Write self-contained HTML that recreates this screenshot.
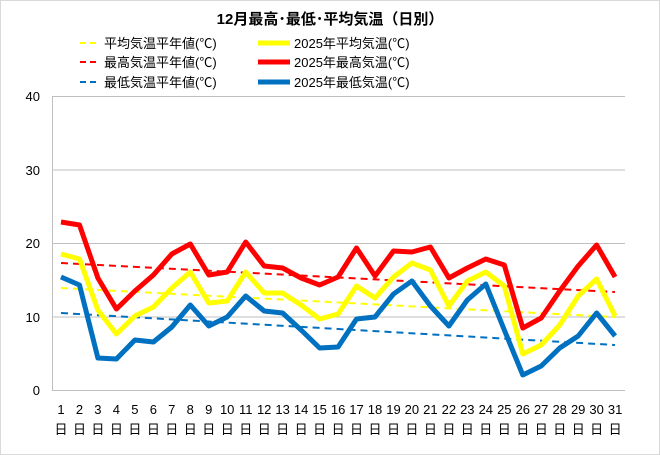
<!DOCTYPE html><html><head><meta charset="utf-8"><style>body{margin:0;background:#fff}svg{display:block}text{font-family:"Liberation Sans","Noto Sans CJK JP",sans-serif;fill:#000}</style></head><body>
<svg width="660" height="455" xmlns="http://www.w3.org/2000/svg">
<rect x="0.5" y="0.5" width="659" height="454" fill="#fff" stroke="#d9d9d9"/>
<text x="330" y="24" font-size="15" font-weight="bold" text-anchor="middle">12月最高･最低･平均気温（日別）</text>
<g font-size="13">
<line x1="80" y1="43" x2="100" y2="43" stroke="#ffff00" stroke-width="2" stroke-dasharray="6,4"/><text x="104" y="48">平均気温平年値(℃)</text>
<line x1="80" y1="62" x2="100" y2="62" stroke="#ff0000" stroke-width="2" stroke-dasharray="6,4"/><text x="104" y="67">最高気温平年値(℃)</text>
<line x1="80" y1="82" x2="100" y2="82" stroke="#0070c0" stroke-width="2" stroke-dasharray="6,4"/><text x="104" y="87">最低気温平年値(℃)</text>
<line x1="258" y1="43" x2="290" y2="43" stroke="#ffff00" stroke-width="5"/><text x="294" y="48">2025年平均気温(℃)</text>
<line x1="258" y1="62" x2="290" y2="62" stroke="#ff0000" stroke-width="5"/><text x="294" y="67">2025年最高気温(℃)</text>
<line x1="258" y1="82" x2="290" y2="82" stroke="#0070c0" stroke-width="5"/><text x="294" y="87">2025年最低気温(℃)</text>
</g>
<g stroke="#bfbfbf" stroke-width="1">
<line x1="52" y1="96.5" x2="625" y2="96.5"/><line x1="52" y1="170" x2="625" y2="170"/><line x1="52" y1="243.5" x2="625" y2="243.5"/><line x1="52" y1="317" x2="625" y2="317"/><line x1="52" y1="390.5" x2="625" y2="390.5"/><line x1="52.5" y1="96" x2="52.5" y2="390"/>
</g>
<g font-size="13" text-anchor="end"><text x="40" y="101">40</text><text x="40" y="175">30</text><text x="40" y="248">20</text><text x="40" y="322">10</text><text x="40" y="395">0</text></g>
<g font-size="13" text-anchor="middle">
<text x="61" y="414">1</text><text x="79.5" y="414">2</text><text x="97.9" y="414">3</text><text x="116.4" y="414">4</text><text x="134.9" y="414">5</text><text x="153.4" y="414">6</text><text x="171.8" y="414">7</text><text x="190.3" y="414">8</text><text x="208.8" y="414">9</text><text x="227.2" y="414">10</text><text x="245.7" y="414">11</text><text x="264.2" y="414">12</text><text x="282.6" y="414">13</text><text x="301.1" y="414">14</text><text x="319.6" y="414">15</text><text x="338.1" y="414">16</text><text x="356.5" y="414">17</text><text x="375" y="414">18</text><text x="393.5" y="414">19</text><text x="411.9" y="414">20</text><text x="430.4" y="414">21</text><text x="448.9" y="414">22</text><text x="467.3" y="414">23</text><text x="485.8" y="414">24</text><text x="504.3" y="414">25</text><text x="522.8" y="414">26</text><text x="541.2" y="414">27</text><text x="559.7" y="414">28</text><text x="578.2" y="414">29</text><text x="596.6" y="414">30</text><text x="615.1" y="414">31</text>
<text x="61" y="434">日</text><text x="79.5" y="434">日</text><text x="97.9" y="434">日</text><text x="116.4" y="434">日</text><text x="134.9" y="434">日</text><text x="153.4" y="434">日</text><text x="171.8" y="434">日</text><text x="190.3" y="434">日</text><text x="208.8" y="434">日</text><text x="227.2" y="434">日</text><text x="245.7" y="434">日</text><text x="264.2" y="434">日</text><text x="282.6" y="434">日</text><text x="301.1" y="434">日</text><text x="319.6" y="434">日</text><text x="338.1" y="434">日</text><text x="356.5" y="434">日</text><text x="375" y="434">日</text><text x="393.5" y="434">日</text><text x="411.9" y="434">日</text><text x="430.4" y="434">日</text><text x="448.9" y="434">日</text><text x="467.3" y="434">日</text><text x="485.8" y="434">日</text><text x="504.3" y="434">日</text><text x="522.8" y="434">日</text><text x="541.2" y="434">日</text><text x="559.7" y="434">日</text><text x="578.2" y="434">日</text><text x="596.6" y="434">日</text><text x="615.1" y="434">日</text>
</g>
<polyline fill="none" stroke="#ff0000" stroke-width="2" stroke-dasharray="7,5" points="61,263 615,292"/>
<polyline fill="none" stroke="#ffff00" stroke-width="2" stroke-dasharray="7,5" points="61,288 615,317"/>
<polyline fill="none" stroke="#0070c0" stroke-width="2" stroke-dasharray="7,5" points="61,313 615,345"/>
<g fill="none" stroke-width="5" stroke-linejoin="round">
<polyline stroke="#ffff00" points="61,254 79.5,259 97.9,310 116.4,334 134.9,316 153.4,307 171.8,288 190.3,272 208.8,303 227.2,301 245.7,272 264.2,293 282.6,293 301.1,305 319.6,319 338.1,314 356.5,286 375,298 393.5,277 411.9,263 430.4,270 448.9,306 467.3,281 485.8,272 504.3,286 522.8,354 541.2,345 559.7,325 578.2,296 596.6,279 615.1,316"/>
<polyline stroke="#ff0000" points="61,222 79.5,225 97.9,278 116.4,309 134.9,291 153.4,275 171.8,254 190.3,244 208.8,275 227.2,272 245.7,242 264.2,266 282.6,268 301.1,278 319.6,285 338.1,277 356.5,248 375,276 393.5,251 411.9,252 430.4,247 448.9,278 467.3,268 485.8,259 504.3,265 522.8,328 541.2,318 559.7,291 578.2,266 596.6,245 615.1,277"/>
<polyline stroke="#0070c0" points="61,277 79.5,285 97.9,358 116.4,359 134.9,340 153.4,342 171.8,327 190.3,305 208.8,326 227.2,317 245.7,296 264.2,311 282.6,313 301.1,330 319.6,348 338.1,347 356.5,319 375,317 393.5,294 411.9,281 430.4,306 448.9,326 467.3,300 485.8,284 504.3,330 522.8,375 541.2,366 559.7,348 578.2,336 596.6,313 615.1,336"/>
</g>
</svg></body></html>
